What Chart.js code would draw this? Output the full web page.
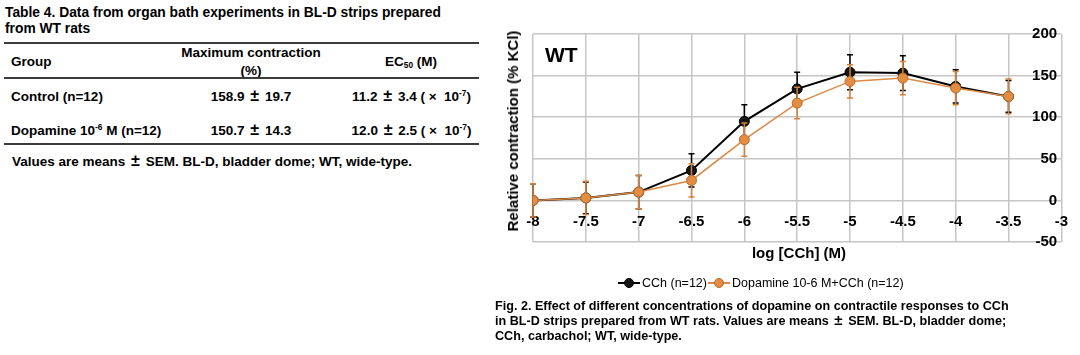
<!DOCTYPE html>
<html><head><meta charset="utf-8">
<script src="https://cdn.jsdelivr.net/npm/chart.js@4.4.1/dist/chart.umd.min.js"></script>
<style>
html,body{margin:0;padding:0;background:#fff;}
body{width:1080px;height:355px;position:relative;overflow:hidden;font-family:"Liberation Sans",Arial,Helvetica,sans-serif;color:#000;}
.t{position:absolute;white-space:nowrap;font-weight:bold;}
.rule{position:absolute;left:4px;width:475px;height:2px;background:#3c3c3c;}
.pm{font-size:1.2em;margin:0 2px;line-height:0;}
sup,sub{font-size:0.62em;line-height:0;}
sup{vertical-align:0.55em;}
sub{vertical-align:-0.25em;}
#chartBox{position:absolute;left:490px;top:0;width:590px;height:270px;}
.lg{position:absolute;top:276px;height:14px;}
.lgline{position:absolute;top:6px;width:22px;height:2px;}
.lgdot{position:absolute;top:2px;left:6px;width:8px;height:8px;border-radius:50%;}
.lgtxt{position:absolute;top:-1px;left:24px;font-size:12.5px;line-height:16px;white-space:nowrap;color:#000;}
</style></head><body>
<div id="tableArea"></div>
<div id="chartBox"><canvas id="c" width="590" height="270"></canvas></div>
<div class="t" style="left:545px;top:42px;font-size:21px;line-height:26px;">WT</div>
<div class="t" style="left:513px;top:131px;font-size:15px;line-height:18px;transform:translate(-50%,-50%) rotate(-90deg);">Relative contraction (% KCl)</div>
<div class="t" style="left:799px;top:244px;font-size:15px;line-height:18px;transform:translateX(-50%);">log [CCh] (M)</div>
<div id="legend"></div>
<div id="caption"></div>
<script>
// ---- data ----
const logConc = [-8, -7.5, -7, -6.5, -6, -5.5, -5, -4.5, -4, -3.5];
const cchMean = [0, 3, 10, 36, 95, 134, 154, 153, 137, 125];
const cchSem  = [20, 19, 20, 20, 20, 20, 21, 21, 20, 19];
const dopMean = [0, 3, 10, 24, 73, 117, 143, 147, 135, 125];
const dopSem  = [20, 20, 20, 20, 20, 19, 20, 20, 20, 21];
const xTicks = [-8, -7.5, -7, -6.5, -6, -5.5, -5, -4.5, -4, -3.5, -3];
const yTicks = [-50, 0, 50, 100, 150, 200];
const seriesNames = ['CCh (n=12)', 'Dopamine 10-6 M+CCh (n=12)'];

const PM = ' <span class="pm">\u00b1</span> ';
const tableTitle = ['Table 4. Data from organ bath experiments in BL-D strips prepared', 'from WT rats'];
const tableHead = ['Group', 'Maximum contraction', '(%)', 'EC<sub>50</sub> (M)'];
const groups = ['Control (n=12)', 'Dopamine 10<sup>-6</sup> M (n=12)'];
const maxMean = ['158.9', '150.7'];
const maxSem = ['19.7', '14.3'];
const ecMean = ['11.2', '12.0'];
const ecSem = ['3.4', '2.5'];
const ec50Exp = '-7';
const tableNote = 'Values are means' + PM + 'SEM. BL-D, bladder dome; WT, wide-type.';
const captionLines = [
  'Fig. 2. Effect of different concentrations of dopamine on contractile responses to CCh',
  'in BL-D strips prepared from WT rats. Values are means' + PM + 'SEM. BL-D, bladder dome;',
  'CCh, carbachol; WT, wide-type.'
];

// ---- table (text) ----
function txt(html, x, cy, size, align) {
  const lh = Math.round(size * 1.25);
  const tr = align === 'center' ? 'transform:translateX(-50%);' : '';
  return `<div class="t" style="left:${x}px;top:${cy - lh / 2}px;font-size:${size}px;line-height:${lh}px;${tr}">${html}</div>`;
}
let h = '';
h += txt(tableTitle[0], 5, 12.5, 13.8);
h += txt(tableTitle[1], 5, 28, 13.8);
h += '<div class="rule" style="top:41.5px;"></div>';
h += txt(tableHead[0], 11, 61, 13.5);
h += txt(tableHead[1], 251, 52.5, 13.5, 'center');
h += txt(tableHead[2], 251, 70, 13.5, 'center');
h += txt(tableHead[3], 411, 61, 13.5, 'center');
h += '<div class="rule" style="top:77px;"></div>';
const rowY = [96, 130.5];
groups.forEach((g, i) => {
  h += txt(g, 11, rowY[i], 13.5);
  h += txt(maxMean[i] + PM + maxSem[i], 251, rowY[i], 13.5, 'center');
  h += txt(ecMean[i] + PM + ecSem[i] + ' ( \u00d7 &nbsp;10<sup>' + ec50Exp + '</sup>)', 411.5, rowY[i], 13.5, 'center');
});
h += '<div class="rule" style="top:143px;"></div>';
h += txt(tableNote, 12, 161, 13.5);
document.getElementById('tableArea').innerHTML = h;

// ---- caption ----
let c = '';
const capY = [305.7, 321, 335.5];
captionLines.forEach((l, i) => { c += txt(l, 495, capY[i], 12.6); });
document.getElementById('caption').innerHTML = c;

// ---- legend (html) ----
const lgColors = [{line:'#000', dot:'#151515', border:'#000'}, {line:'#D98A45', dot:'#E38D42', border:'#B86B2A'}];
const lgX = [618, 708];
let lg = '';
seriesNames.forEach((n, i) => {
  lg += `<div class="lg" style="left:${lgX[i]}px;"><div class="lgline" style="background:${lgColors[i].line};"></div>` +
        `<div class="lgdot" style="background:${lgColors[i].dot};border:1px solid ${lgColors[i].border};"></div>` +
        `<div class="lgtxt">${n}</div></div>`;
});
document.getElementById('legend').innerHTML = lg;

// ---- error bars plugin ----
const errorBars = {
  id: 'errorBars',
  beforeDatasetDraw(chart, args) {
    const ds = chart.data.datasets[args.index];
    const ys = chart.scales.y;
    const ctx = chart.ctx;
    ctx.save();
    ctx.strokeStyle = ds.errColor;
    ctx.lineWidth = 1.5;
    args.meta.data.forEach((pt, i) => {
      const v = ds.data[i].y, e = ds.err[i];
      const x = pt.x;
      const yt = ys.getPixelForValue(v + e), yb = ys.getPixelForValue(v - e);
      ctx.beginPath();
      ctx.moveTo(x, yt); ctx.lineTo(x, yb);
      ctx.moveTo(x - 3, yt); ctx.lineTo(x + 3, yt);
      ctx.moveTo(x - 3, yb); ctx.lineTo(x + 3, yb);
      ctx.stroke();
    });
    ctx.restore();
  }
};

Chart.defaults.font.family = '"Liberation Sans", Arial, Helvetica, sans-serif';
const tickFont = {size: 15, weight: 'bold'};
new Chart(document.getElementById('c'), {
  type: 'line',
  data: {
    datasets: [
      {
        label: seriesNames[0],
        data: logConc.map((x, i) => ({x, y: cchMean[i]})),
        err: cchSem, errColor: '#000',
        borderColor: '#000', borderWidth: 2,
        pointRadius: 5, pointBackgroundColor: '#151515', pointBorderColor: '#000', pointBorderWidth: 1,
        order: 2, tension: 0
      },
      {
        label: seriesNames[1],
        data: logConc.map((x, i) => ({x, y: dopMean[i]})),
        err: dopSem, errColor: '#D4823C',
        borderColor: '#D98A45', borderWidth: 1.5,
        pointRadius: 5, pointBackgroundColor: '#E38D42', pointBorderColor: '#B86B2A', pointBorderWidth: 1,
        order: 1, tension: 0
      }
    ]
  },
  options: {
    responsive: false, animation: false, devicePixelRatio: 1,
    layout: {padding: {left: 43, top: 34, right: 14, bottom: 28}},
    plugins: {legend: {display: false}, tooltip: {enabled: false}},
    scales: {
      x: {
        type: 'linear', min: -8, max: -3, position: {y: 0},
        afterBuildTicks: s => { s.ticks = xTicks.map(v => ({value: v})); },
        ticks: {padding: 12, maxRotation: 0, autoSkip: false, font: tickFont, color: '#000', callback: v => String(v)},
        grid: {color: '#C6C6C6', lineWidth: 1.5, drawTicks: false},
        border: {display: false}
      },
      y: {
        type: 'linear', min: -50, max: 200, position: {x: -3.04},
        afterBuildTicks: s => { s.ticks = yTicks.map(v => ({value: v})); },
        ticks: {padding: 0, font: tickFont, color: '#000', callback: v => String(v)},
        grid: {color: '#C6C6C6', lineWidth: 1.5, drawTicks: false},
        border: {display: false}
      }
    }
  },
  plugins: [errorBars]
});
</script>
</body></html>
